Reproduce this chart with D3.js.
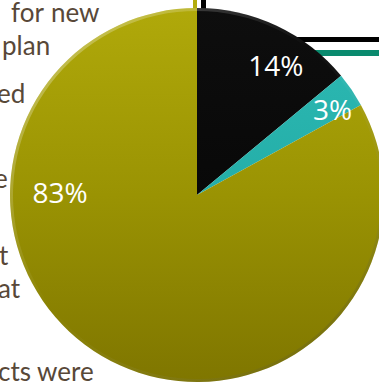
<!DOCTYPE html>
<html>
<head>
<meta charset="utf-8">
<script src="https://cdn.jsdelivr.net/npm/d3@7"></script>
<style>
  html, body { margin: 0; padding: 0; background: #fff; overflow: hidden; }
  svg { display: block; }
  .bodyText { font-family: Lato, "Open Sans", sans-serif; font-size: 26px; fill: #584838; }
  .pctLabel { font-family: "Open Sans", sans-serif; font-size: 28px; fill: #fff; text-anchor: middle; }
</style>
</head>
<body>
<div id="chart"></div>
<script>
// slice data, clockwise from 12 o'clock
var categories = ["Black", "Teal", "Yellow"];
var shares = [14, 3, 83];
var pctLabels = ["14%", "3%", "83%"];

// fragments of the slide text left of the pie
var textLines = ["for  new", "plan", "ed", "e", "t", "at", "cts were"];

var width = 379, height = 383;
var cx = 197, cy = 195, radius = 187;

var svg = d3.select("#chart").append("svg")
    .attr("width", width)
    .attr("height", height);

var defs = svg.append("defs");

// gradients live in the pie group's coordinates (centre at 0,0)
function vGrad(id, top, mid, bottom){
    var g = defs.append("linearGradient")
        .attr("id", id)
        .attr("gradientUnits", "userSpaceOnUse")
        .attr("x1", 0).attr("y1", -radius)
        .attr("x2", 0).attr("y2", radius);
    g.append("stop").attr("offset", "0%").attr("stop-color", top);
    g.append("stop").attr("offset", "50%").attr("stop-color", mid);
    g.append("stop").attr("offset", "100%").attr("stop-color", bottom);
}
vGrad("gBlack", "#0e0e0e", "#080808", "#050505");
vGrad("gTeal", "#2ebab4", "#24aea8", "#17948f");
vGrad("gYellow", "#b0a90a", "#9a9303", "#7f7600");

var fills = {"Black": "url(#gBlack)", "Teal": "url(#gTeal)", "Yellow": "url(#gYellow)"};

// background slide bits
var textY = [22, 55, 103, 188, 265, 298, 381];
var textX = [11, 2, -3, -6, -1, -2, -2];
svg.selectAll("text.bodyText")
    .data(textLines)
    .enter()
    .append("text")
    .attr("class", "bodyText")
    .attr("x", function(d, i){ return textX[i]; })
    .attr("y", function(d, i){ return textY[i]; })
    .style("word-spacing", function(d, i){ return i == 0 ? "1px" : "0px"; })
    .text(function(d){ return d; });

// the legend-ish strokes showing behind the pie
svg.append("rect").attr("x", 260).attr("y", 37).attr("width", 130).attr("height", 5).style("fill", "#000");
svg.append("rect").attr("x", 260).attr("y", 50).attr("width", 130).attr("height", 6).style("fill", "#0a8a6e");
svg.append("rect").attr("x", 193).attr("y", 0).attr("width", 4).attr("height", 10).style("fill", "#b2ac0c");
svg.append("rect").attr("x", 201).attr("y", 0).attr("width", 5).attr("height", 10).style("fill", "#000");

var pie = d3.pie().sort(null).value(function(d){ return d; });
var arcs = pie(shares);

var arc = d3.arc().innerRadius(0).outerRadius(radius);

var g = svg.append("g").attr("transform", "translate(" + cx + "," + cy + ")");

g.selectAll("path.slice")
    .data(arcs)
    .enter()
    .append("path")
    .attr("class", "slice")
    .attr("d", arc)
    .style("fill", function(d, i){ return fills[categories[i]]; });

// bevel rim: light upper-left, dark lower-right
var rim = defs.append("linearGradient")
    .attr("id", "gRim")
    .attr("gradientUnits", "userSpaceOnUse")
    .attr("x1", -radius).attr("y1", -radius)
    .attr("x2", radius).attr("y2", radius);
rim.append("stop").attr("offset", "0%").attr("stop-color", "#ffffff").attr("stop-opacity", 0.4);
rim.append("stop").attr("offset", "45%").attr("stop-color", "#ffffff").attr("stop-opacity", 0);
rim.append("stop").attr("offset", "100%").attr("stop-color", "#000000").attr("stop-opacity", 0.25);

var rimArc = d3.arc().innerRadius(radius - 3).outerRadius(radius);
g.selectAll("path.rim")
    .data(arcs)
    .enter()
    .append("path")
    .attr("class", "rim")
    .attr("d", rimArc)
    .style("fill", "url(#gRim)");

// label placement (degrees clockwise from top, distance from centre)
var labelAngle = [31.5, 58, 270.8];
var labelRadius = [151, 160, 137];

g.selectAll("text.pctLabel")
    .data(arcs)
    .enter()
    .append("text")
    .attr("class", "pctLabel")
    .attr("x", function(d, i){ return Math.sin(labelAngle[i] * Math.PI / 180) * labelRadius[i]; })
    .attr("y", function(d, i){ return -Math.cos(labelAngle[i] * Math.PI / 180) * labelRadius[i]; })
    .attr("dy", "0.35em")
    .text(function(d, i){ return pctLabels[i]; });
</script>
</body>
</html>
